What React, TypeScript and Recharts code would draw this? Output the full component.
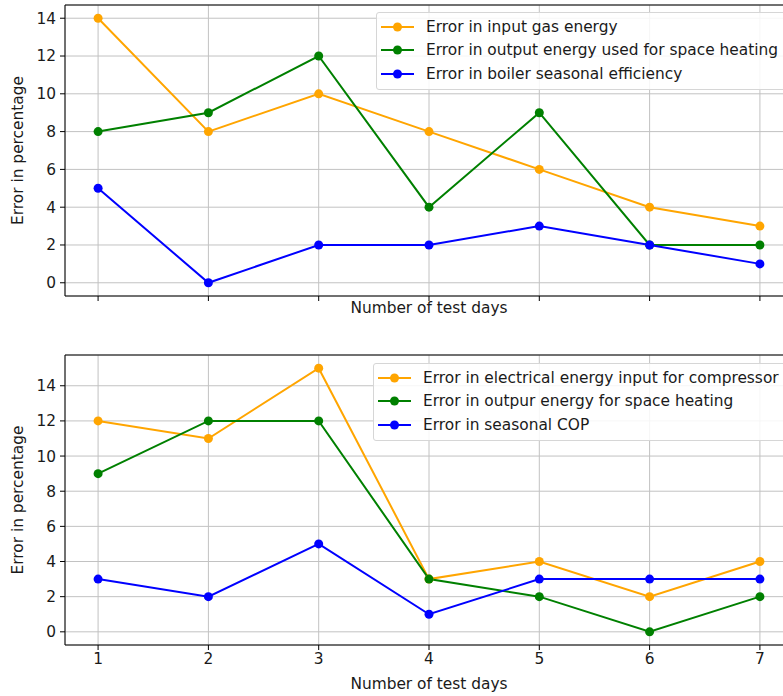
import {
  CartesianGrid,
  Label,
  Legend,
  Line,
  LineChart,
  ReferenceLine,
  XAxis,
  YAxis,
} from 'recharts';

const days = [1, 2, 3, 4, 5, 6, 7];
const yTicks = [0, 2, 4, 6, 8, 10, 12, 14];

// boiler panel
const gasInput = [14, 8, 10, 8, 6, 4, 3];
const boilerHeatOut = [8, 9, 12, 4, 9, 2, 2];
const boilerEfficiency = [5, 0, 2, 2, 3, 2, 1];

// heat pump panel
const compressorInput = [12, 11, 15, 3, 4, 2, 4];
const pumpHeatOut = [9, 12, 12, 3, 2, 0, 2];
const seasonalCop = [3, 2, 5, 1, 3, 3, 3];

const ORANGE = '#ffa500';
const GREEN = '#008000';
const BLUE = '#0000ff';
const INK = '#1a1a1a';
const FONT = '"DejaVu Sans", sans-serif';
const FS = 15.4;

type Series = { key: string; name: string; values: number[]; color: string };

const boilerSeries: Series[] = [
  { key: 'gas', name: 'Error in input gas energy', values: gasInput, color: ORANGE },
  { key: 'heat', name: 'Error in output energy used for space heating', values: boilerHeatOut, color: GREEN },
  { key: 'eff', name: 'Error in boiler seasonal efficiency', values: boilerEfficiency, color: BLUE },
];

const pumpSeries: Series[] = [
  { key: 'elec', name: 'Error in electrical energy input for compressor', values: compressorInput, color: ORANGE },
  { key: 'heat', name: 'Error in outpur energy for space heating', values: pumpHeatOut, color: GREEN },
  { key: 'cop', name: 'Error in seasonal COP', values: seasonalCop, color: BLUE },
];

function toRows(series: Series[]) {
  return days.map((day, i) => {
    const row: Record<string, number> = { day };
    series.forEach((s) => {
      row[s.key] = s.values[i];
    });
    return row;
  });
}

const blankTick = () => <g />;

// legend keeps the plotting order of the series, not recharts' sorted payload
function makeLegend(series: Series[]) {
  return function LegendBox() {
    return (
      <div
        style={{
          border: '1px solid #d6d6d6',
          borderRadius: 3,
          background: 'rgba(255,255,255,0.85)',
          padding: '2px 20px 3px 4px',
          fontFamily: FONT,
          fontSize: FS,
          color: INK,
          whiteSpace: 'nowrap',
        }}
      >
        {series.map((s) => (
          <div key={s.key} style={{ display: 'flex', alignItems: 'center', height: 23.5 }}>
            <svg width={33} height={12} style={{ marginRight: 12 }}>
              <line x1={0} y1={6} x2={33} y2={6} stroke={s.color} strokeWidth={2} />
              <circle cx={16.5} cy={6} r={4.5} fill={s.color} />
            </svg>
            <span>{s.name}</span>
          </div>
        ))}
      </div>
    );
  };
}

type PanelProps = {
  series: Series[];
  top: number;
  height: number;
  marginTop: number;
  marginBottom: number;
  yDomain: [number, number];
  legendPos: { left: number; top: number };
  tickLabels: boolean;
};

function Panel({ series, top, height, marginTop, marginBottom, yDomain, legendPos, tickLabels }: PanelProps) {
  const data = toRows(series);
  return (
    <div style={{ position: 'absolute', left: 0, top }}>
      <LineChart
        width={800}
        height={height}
        data={data}
        margin={{ top: marginTop, right: 7, bottom: marginBottom, left: 25 }}
      >
        <CartesianGrid stroke="#c2c2c2" strokeWidth={1} />
        <XAxis
          dataKey="day"
          type="number"
          domain={[0.7, 7.3]}
          ticks={days}
          allowDataOverflow
          height={30}
          stroke="#000"
          tickSize={5}
          tickMargin={3}
          tick={tickLabels ? { fill: INK, fontSize: FS } : blankTick}
        >
          <Label
            content={({ viewBox }: any) => (
              <text
                x={viewBox.x + viewBox.width / 2}
                y={viewBox.y + (tickLabels ? 39 : 12)}
                textAnchor="middle"
                dominantBaseline="central"
                fill={INK}
                fontSize={FS}
              >
                Number of test days
              </text>
            )}
          />
        </XAxis>
        <YAxis
          type="number"
          domain={yDomain}
          ticks={yTicks}
          interval={0}
          allowDataOverflow
          width={40}
          stroke="#000"
          tickSize={5}
          tickMargin={4}
          tick={{ fill: INK, fontSize: FS }}
        >
          <Label
            content={({ viewBox }: any) => {
              const cx = 18;
              const cy = viewBox.y + viewBox.height / 2;
              return (
                <text
                  x={cx}
                  y={cy}
                  transform={`rotate(-90 ${cx} ${cy})`}
                  textAnchor="middle"
                  dominantBaseline="central"
                  fill={INK}
                  fontSize={FS}
                >
                  Error in percentage
                </text>
              );
            }}
          />
        </YAxis>
        <ReferenceLine y={yDomain[1]} stroke="#000" strokeWidth={1} />
        <ReferenceLine x={7.3} stroke="#000" strokeWidth={1} />
        {series.map((s) => (
          <Line
            key={s.key}
            dataKey={s.key}
            name={s.name}
            type="linear"
            stroke={s.color}
            strokeWidth={2}
            dot={{ r: 4.5, fill: s.color, stroke: 'none' }}
            activeDot={false}
            isAnimationActive={false}
          />
        ))}
        <Legend
          layout="vertical"
          align="center"
          verticalAlign="middle"
          content={makeLegend(series)}
          wrapperStyle={{ left: legendPos.left, top: legendPos.top, width: 'auto' }}
        />
      </LineChart>
    </div>
  );
}

export default function App() {
  return (
    <div
      style={{
        position: 'fixed',
        left: 0,
        top: 0,
        width: 783,
        height: 696,
        overflow: 'hidden',
        background: '#fff',
        fontFamily: FONT,
      }}
    >
      <Panel
        series={boilerSeries}
        top={0}
        height={330}
        marginTop={5}
        marginBottom={4}
        yDomain={[-0.7, 14.7]}
        legendPos={{ left: 376, top: 12 }}
        tickLabels={false}
      />
      <Panel
        series={pumpSeries}
        top={340}
        height={356}
        marginTop={15}
        marginBottom={21}
        yDomain={[-0.75, 15.75]}
        legendPos={{ left: 373, top: 23 }}
        tickLabels
      />
    </div>
  );
}
